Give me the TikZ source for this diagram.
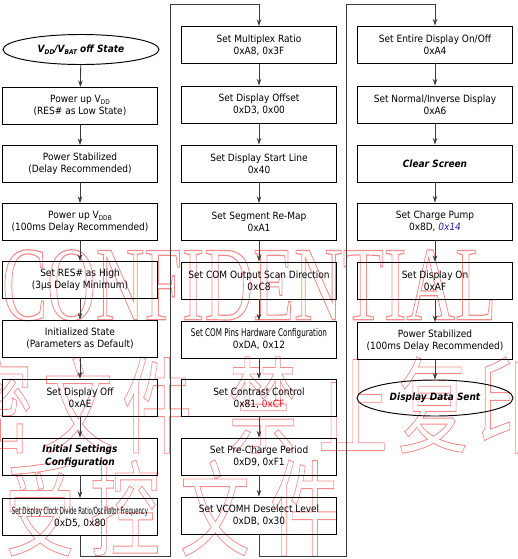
\documentclass[tikz,border=0pt]{standalone}
\usepackage{fontspec}
\usepackage{xcolor}
\usepackage{graphicx}
\usetikzlibrary{shapes.geometric,arrows.meta}
\setmainfont{DejaVu Sans}[FakeStretch=0.9]
\newfontfamily\cjkfont{Noto Sans CJK SC}
\newfontfamily\wmserif{Liberation Serif}
\definecolor{cfred}{RGB}{230,20,20}
\definecolor{pumpblue}{RGB}{30,30,170}
\definecolor{wireclr}{RGB}{60,60,60}
% small lowered index, as in V_DD
\newcommand\lowsub[1]{\raisebox{-0.35ex}{\fontsize{6.5}{6.5}\selectfont #1}}
% glyphs drawn as thin red outlines only
\newcommand\outlined[2]{\special{pdf:code q 1 Tr #1 w 0.96 0.55 0.55 RG}#2\special{pdf:code Q}}
\newcommand\wmglyph[1]{\resizebox{70pt}{88pt}{\cjkfont\fontsize{96}{96}\selectfont\outlined{0.8}{#1}}}
\begin{document}
\begin{tikzpicture}[x=1pt,y=-1pt,
  stepbox/.style={draw, line width=0.95pt, minimum width=155pt, minimum height=37pt,
    inner sep=0pt, align=center, font=\fontsize{10}{12}\selectfont},
  boldbox/.style={stepbox, font=\fontsize{10}{12.5}\selectfont\bfseries\itshape},
  termbox/.style={ellipse, draw, line width=0.95pt, minimum width=156pt, inner sep=0pt,
    align=center, font=\fontsize{10}{12}\selectfont\bfseries\itshape},
  flow/.style={draw=wireclr, line width=0.85pt, -{Stealth[length=6.5pt,width=4.5pt]}},
  wmark/.style={inner sep=0pt, anchor=center}]
\useasboundingbox (0,0) rectangle (518,559);

% ---- watermark ----
\begin{scope}
\clip (0,0) rectangle (518,559);
\node[inner sep=0pt, anchor=south west] (wmtext) at (2,321)
  {\resizebox{494pt}{70pt}{\wmserif\fontsize{106}{106}\selectfont\outlined{1.2}{CONFIDENTIAL}}};
\node[wmark] (wa1) at (-2,405)  {\wmglyph{密}};
\node[wmark] (wa2) at (78,405)  {\wmglyph{文}};
\node[wmark] (wa3) at (157,405) {\wmglyph{件}};
\node[wmark] (wa4) at (263,405) {\wmglyph{禁}};
\node[wmark] (wa5) at (353,405) {\wmglyph{止}};
\node[wmark] (wa6) at (433,405) {\wmglyph{复}};
\node[wmark] (wa7) at (513,405) {\wmglyph{印}};
\node[wmark] (wb1) at (40,508)  {\wmglyph{受}};
\node[wmark] (wb2) at (125,508) {\wmglyph{控}};
\node[wmark] (wb3) at (215,508) {\wmglyph{文}};
\node[wmark] (wb4) at (305,508) {\wmglyph{件}};
\end{scope}

% ---- first column: power-up ----
\node[termbox, minimum height=30pt] (a0) at (81,49.5) {V\lowsub{DD}/V\lowsub{BAT} off State};
\node[stepbox] (a1) at (80,106) {Power up V\lowsub{DD}\\(RES\# as Low State)};
\node[stepbox] (a2) at (80,164) {Power Stabilized\\(Delay Recommended)};
\node[stepbox] (a3) at (80,222) {Power up V\lowsub{DDB}\\(100ms Delay Recommended)};
\node[stepbox] (a4) at (80,280) {Set RES\# as High\\(3µs Delay Minimum)};
\node[stepbox] (a5) at (80,338.5) {Initialized State\\(Parameters as Default)};
\node[stepbox] (a6) at (80,397.5) {Set Display Off\\0xAE};
\node[boldbox] (a7) at (80,456.5) {Initial Settings\\Configuration};
\node[stepbox] (a8) at (80,517) {\resizebox{136pt}{7.5pt}{Set Display Clock Divide Ratio/Oscillator Frequency}\\0xD5, 0x80};

% ---- second column: display setup ----
\node[stepbox] (b1) at (259,45) {Set Multiplex Ratio\\0xA8, 0x3F};
\node[stepbox] (b2) at (259,104.5) {Set Display Offset\\0xD3, 0x00};
\node[stepbox] (b3) at (259,163.5) {Set Display Start Line\\0x40};
\node[stepbox] (b4) at (259,222) {Set Segment Re-Map\\0xA1};
\node[stepbox] (b5) at (259,280.5) {Set COM Output Scan Direction\\0xC8};
\node[stepbox] (b6) at (259,339.5) {\resizebox{136pt}{8pt}{Set COM Pins Hardware Configuration}\\0xDA, 0x12};
\node[stepbox] (b7) at (259,398) {Set Contrast Control\\0x81, \textcolor{cfred}{0xCF}};
\node[stepbox] (b8) at (259,456.5) {Set Pre-Charge Period\\0xD9, 0xF1};
\node[stepbox] (b9) at (259,515.5) {Set VCOMH Deselect Level\\0xDB, 0x30};

% ---- third column: turn on ----
\node[stepbox] (c1) at (435,44.5) {Set Entire Display On/Off\\0xA4};
\node[stepbox] (c2) at (435,104.5) {Set Normal/Inverse Display\\0xA6};
\node[boldbox] (c3) at (435,163.5) {Clear Screen};
\node[stepbox] (c4) at (435,221.5) {Set Charge Pump\\0x8D, \textcolor{pumpblue}{\itshape 0x14}};
\node[stepbox] (c5) at (435,281) {Set Display On\\0xAF};
\node[stepbox] (c6) at (435,341) {Power Stabilized\\(100ms Delay Recommended)};
\node[termbox, minimum height=36pt] (c7) at (435,398) {Display Data Sent};

% ---- arrows inside the columns ----
\foreach \u/\v in {a0/a1,a1/a2,a2/a3,a3/a4,a4/a5,a5/a6,a6/a7,a7/a8,
                   b1/b2,b2/b3,b3/b4,b4/b5,b5/b6,b6/b7,b7/b8,b8/b9,
                   c1/c2,c2/c3,c3/c4,c4/c5,c5/c6,c6/c7}
  \draw[flow] (\u) -- (\v);

% ---- links from the foot of one column to the head of the next ----
\coordinate (ab1) at (80,556);
\coordinate (ab2) at (170,556);
\coordinate (ab3) at (170,4);
\coordinate (ab4) at (259,4);
\draw[flow] (a8.south) -- (ab1) -- (ab2) -- (ab3) -- (ab4) -- (b1.north);

\coordinate (bc1) at (259,556);
\coordinate (bc2) at (346,556);
\coordinate (bc3) at (346,4);
\coordinate (bc4) at (435,4);
\draw[flow] (b9.south) -- (bc1) -- (bc2) -- (bc3) -- (bc4) -- (c1.north);
\end{tikzpicture}
\end{document}
